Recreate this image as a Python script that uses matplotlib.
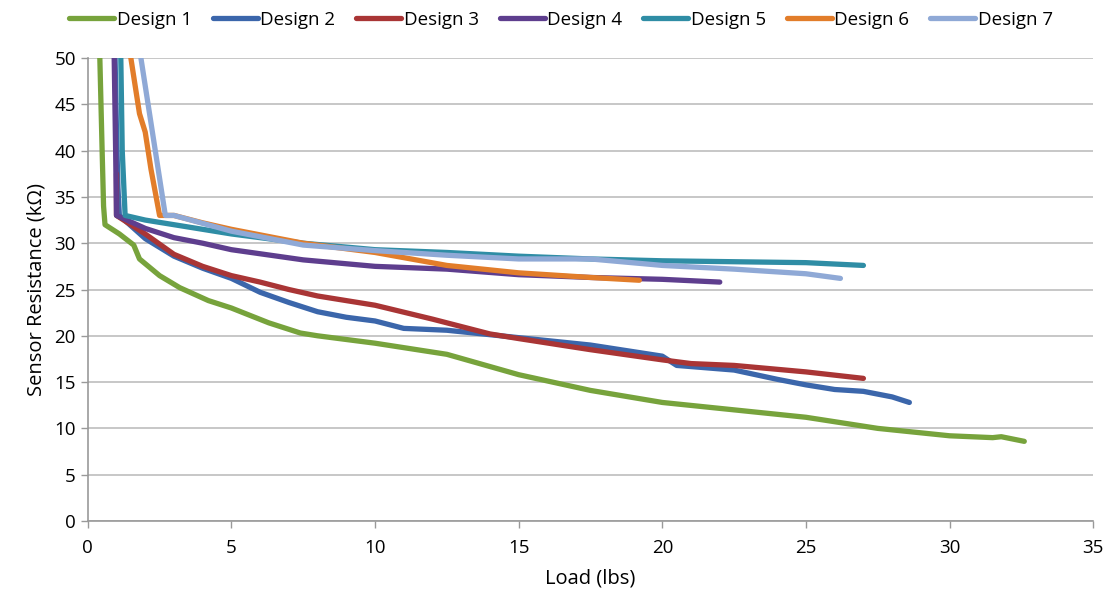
import matplotlib
matplotlib.use("Agg")
import matplotlib.pyplot as plt

plt.rcParams["font.family"] = ["Open Sans", "DejaVu Sans"]

# ── Data ───────────────────────────────────────────────────────────
d1_x = [0.42, 0.50, 0.55, 0.60, 1.1, 1.6, 1.8, 2.5, 3.2, 4.2, 5.0, 6.3, 7.4, 8.0,
        10.0, 12.5, 15.0, 17.5, 20.0, 22.5, 25.0, 27.5, 30.0, 31.5, 31.8, 32.6]
d1_y = [50, 40, 34, 32.0, 31.0, 29.8, 28.3, 26.5, 25.2, 23.8, 23.0, 21.4, 20.3, 20.0,
        19.2, 18.0, 15.8, 14.1, 12.8, 12.0, 11.2, 10.0, 9.2, 9.0, 9.1, 8.6]

d2_x = [0.95, 1.0, 1.05, 1.1, 2.0, 3.0, 4.0, 5.0, 6.0, 7.0, 8.0, 9.0, 10.0, 11.0,
        12.5, 15.0, 17.5, 20.0, 20.5, 22.5, 24.0, 25.0, 26.0, 27.0, 28.0, 28.6]
d2_y = [50, 42, 36, 33.0, 30.5, 28.6, 27.3, 26.2, 24.7, 23.6, 22.6, 22.0, 21.6, 20.8,
        20.6, 19.8, 19.0, 17.8, 16.8, 16.3, 15.3, 14.7, 14.2, 14.0, 13.4, 12.8]

d3_x = [1.0, 1.0, 2.0, 3.0, 4.0, 5.0, 6.0, 7.0, 8.0, 10.0, 12.0, 14.0, 15.0,
        17.5, 20.0, 21.0, 22.5, 25.0, 27.0]
d3_y = [37.5, 33.0, 31.0, 28.8, 27.5, 26.5, 25.8, 25.0, 24.3, 23.3, 21.8, 20.2, 19.7,
        18.5, 17.4, 17.0, 16.8, 16.1, 15.4]

d4_x = [0.92, 0.97, 1.0, 2.0, 3.0, 4.0, 5.0, 7.5, 10.0, 12.5, 15.0, 17.5, 20.0, 22.0]
d4_y = [50, 40, 33.0, 31.6, 30.6, 30.0, 29.3, 28.2, 27.5, 27.2, 26.6, 26.3, 26.1, 25.8]

d5_x = [1.15, 1.2, 1.3, 2.0, 3.0, 5.0, 7.5, 10.0, 12.5, 15.0, 17.5, 20.0, 22.5,
        25.0, 27.0]
d5_y = [50, 40, 33.0, 32.5, 32.0, 31.0, 30.0, 29.3, 29.0, 28.6, 28.3, 28.1, 28.0,
        27.9, 27.6]

d6_x = [1.5, 1.7, 1.8, 2.0, 2.2, 2.5, 3.0, 4.0, 5.0, 7.5, 10.0, 12.5, 15.0, 17.5, 19.2]
d6_y = [50, 46, 44, 42, 38, 33.0, 33.0, 32.2, 31.5, 30.0, 29.0, 27.6, 26.8, 26.3, 26.0]

d7_x = [1.85, 2.0, 2.2, 2.5, 2.7, 3.0, 5.0, 7.5, 10.0, 12.5, 15.0, 17.5, 20.0,
        22.5, 25.0, 26.2]
d7_y = [50, 47, 43, 37, 33.0, 33.0, 31.3, 29.8, 29.2, 28.7, 28.3, 28.3, 27.6,
        27.2, 26.7, 26.2]

labels = ["Design 1", "Design 2", "Design 3", "Design 4",
          "Design 5", "Design 6", "Design 7"]
colors = ["#77A33C", "#3B66AB", "#A93535", "#5E3E8E",
          "#2F8DA5", "#E27D2A", "#8FA9D6"]
series = [(d1_x, d1_y), (d2_x, d2_y), (d3_x, d3_y), (d4_x, d4_y),
          (d5_x, d5_y), (d6_x, d6_y), (d7_x, d7_y)]

# ── Figure ─────────────────────────────────────────────────────────
fig = plt.figure(figsize=(11.11, 6.02), dpi=100)
ax = fig.add_axes([0.079, 0.1346, 0.905, 0.769])

for (xs, ys), lbl, clr in zip(series, labels, colors):
    ax.plot(xs, ys, color=clr, lw=3.8, label=lbl, solid_capstyle="round",
            solid_joinstyle="round", zorder=3)

ax.set_xlim(0, 35)
ax.set_ylim(0, 50)
ax.set_xticks(range(0, 36, 5))
ax.set_yticks(range(0, 51, 5))
ax.grid(axis="y", color="#BEBEBE", lw=1.2, zorder=0)
ax.tick_params(labelsize=13.5, color="#999999", length=5, width=1)
ax.tick_params(axis="x", pad=8)
for side in ("top", "right"):
    ax.spines[side].set_visible(False)
for side in ("left", "bottom"):
    ax.spines[side].set_color("#999999")
    ax.spines[side].set_linewidth(1.2)

ax.set_xlabel("Load (lbs)", fontsize=14.5, labelpad=8)
ax.set_ylabel("Sensor Resistance (kΩ)", fontsize=14.5, labelpad=6)

fig.legend(loc="upper center", bbox_to_anchor=(0.505, 1.01), ncol=7,
           frameon=False, fontsize=13.5, handlelength=2.4, handletextpad=0.15,
           columnspacing=1.1)

fig.savefig("out.png", dpi=100)
